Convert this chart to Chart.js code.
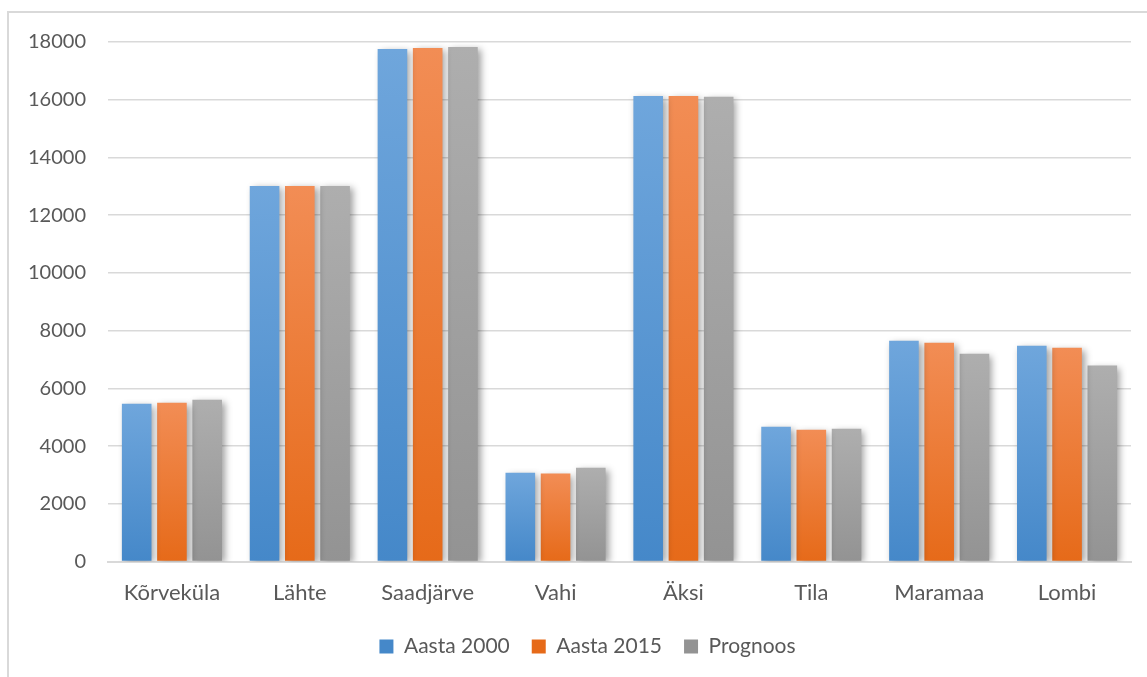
<!DOCTYPE html>
<html>
<head>
<meta charset="utf-8">
<script src="https://cdn.jsdelivr.net/npm/chart.js@4"></script>
<style>
  html, body { margin: 0; padding: 0; background: #ffffff; }
  #wrap { width: 1147px; height: 677px; position: relative; }
</style>
</head>
<body>
<div id="wrap"><canvas id="c" width="1147" height="677"></canvas></div>
<script>
// Population by village
const categories = ['Kõrveküla', 'Lähte', 'Saadjärve', 'Vahi', 'Äksi', 'Tila', 'Maramaa', 'Lombi'];
const seriesNames = ['Aasta 2000', 'Aasta 2015', 'Prognoos'];
const aasta2000 = [5470, 13010, 17760, 3080, 16130, 4670, 7650, 7480];
const aasta2015 = [5500, 13010, 17790, 3050, 16130, 4570, 7580, 7410];
const prognoos  = [5610, 13010, 17830, 3250, 16100, 4600, 7200, 6790];
const yTicks = [0, 2000, 4000, 6000, 8000, 10000, 12000, 14000, 16000, 18000];

const FONT = 'Lato, "Open Sans", sans-serif';
const TEXT = '#595959';

// vertical gradient per bar: lighter at the top, darker at the base
function barFill(top, bottom, flat) {
  return (ctx) => {
    const chart = ctx.chart;
    if (ctx.type !== 'data' || !chart.chartArea || !chart.scales.y) return flat;
    const y = chart.scales.y;
    const yTop = y.getPixelForValue(ctx.raw);
    const yBase = y.getPixelForValue(0);
    if (!isFinite(yTop) || !isFinite(yBase) || yBase - yTop < 1) return flat;
    const g = chart.ctx.createLinearGradient(0, yTop, 0, yBase);
    g.addColorStop(0, top);
    g.addColorStop(1, bottom);
    return g;
  };
}

// outer frame around the chart
const framePlugin = {
  id: 'frame',
  beforeDraw(chart) {
    const c = chart.ctx;
    c.save();
    c.fillStyle = '#ffffff';
    c.fillRect(0, 0, chart.width, chart.height);
    c.strokeStyle = '#d9d9d9';
    c.lineWidth = 2;
    c.beginPath();
    c.moveTo(8, chart.height + 2);
    c.lineTo(8, 12);
    c.lineTo(chart.width + 2, 12);
    c.stroke();
    c.restore();
  }
};

// nudge the legend row so it sits centred under the whole frame
const legendShift = {
  id: 'legendShift',
  afterLayout(chart) {
    const lg = chart.legend;
    if (!lg) return;
    lg.left += 22;
    lg.right += 22;
  }
};

// soft drop shadow under the bars
const shadowPlugin = {
  id: 'barShadow',
  beforeDatasetsDraw(chart) {
    const c = chart.ctx;
    c.save();
    c.shadowColor = 'rgba(0,0,0,0.38)';
    c.shadowBlur = 7;
    c.shadowOffsetX = 3;
    c.shadowOffsetY = 2;
  },
  afterDatasetsDraw(chart) {
    chart.ctx.restore();
  }
};

const datasets = [
  { label: seriesNames[0], data: aasta2000, backgroundColor: barFill('#6fa6dc', '#4588c9', '#5b97d3') },
  { label: seriesNames[1], data: aasta2015, backgroundColor: barFill('#f28d55', '#e66a19', '#ee7b36') },
  { label: seriesNames[2], data: prognoos,  backgroundColor: barFill('#aeaeae', '#939393', '#a1a1a1') }
].map(d => Object.assign(d, { borderWidth: 0, categoryPercentage: 0.827, barPercentage: 0.84 }));

new Chart(document.getElementById('c'), {
  type: 'bar',
  data: { labels: categories, datasets },
  plugins: [framePlugin, legendShift, shadowPlugin],
  options: {
    responsive: false,
    animation: false,
    devicePixelRatio: 1,
    layout: { padding: { top: 42, right: 16, bottom: 10, left: 0 } },
    plugins: {
      tooltip: { enabled: false },
      legend: {
        position: 'bottom',
        labels: {
          font: { family: FONT, size: 21 },
          color: TEXT,
          boxWidth: 14,
          boxHeight: 14,
          padding: 22
        }
      }
    },
    scales: {
      x: {
        grid: { display: false, drawTicks: false },
        border: { display: true, color: '#d9d9d9', width: 2 },
        ticks: { font: { family: FONT, size: 22 }, color: TEXT, padding: 18 },
        afterFit(scale) { scale.height = scale.height - 10; }
      },
      y: {
        min: 0,
        max: 18000,
        afterBuildTicks(scale) { scale.ticks = yTicks.map(v => ({ value: v })); },
        afterFit(scale) { scale.width = 108; },
        grid: { color: '#d9d9d9', lineWidth: 1.5, drawTicks: false },
        border: { display: false },
        ticks: {
          font: { family: FONT, size: 20 },
          color: TEXT,
          padding: 22,
          callback: (v) => String(v)
        }
      }
    }
  }
});
</script>
</body>
</html>
